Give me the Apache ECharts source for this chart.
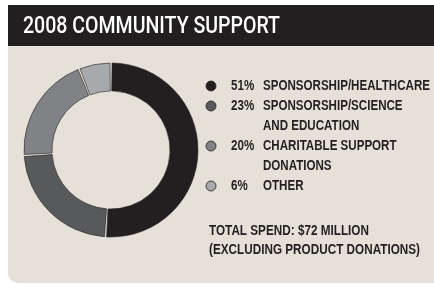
<!DOCTYPE html>
<html>
<head>
<meta charset="utf-8">
<script src="https://cdn.jsdelivr.net/npm/echarts@6/dist/echarts.min.js"></script>
<style>
  html, body { margin: 0; padding: 0; background: #fff; }
  #chart { width: 434px; height: 288px; }
</style>
</head>
<body>
<div id="chart"></div>
<script>
// 数据
var titleText = '2008 COMMUNITY SUPPORT'
var categories = ['SPONSORSHIP/HEALTHCARE', 'SPONSORSHIP/SCIENCE AND EDUCATION', 'CHARITABLE SUPPORT DONATIONS', 'OTHER']
var legendLines = [['SPONSORSHIP/HEALTHCARE'], ['SPONSORSHIP/SCIENCE', 'AND EDUCATION'], ['CHARITABLE SUPPORT', 'DONATIONS'], ['OTHER']]
var values = [51, 23, 20, 6]
var colors = ['#231f20', '#58595b', '#808285', '#a7a9ac']
var noteLines = ['TOTAL SPEND: $72 MILLION', '(EXCLUDING PRODUCT DONATIONS)']

var font = "'Liberation Sans', Arial, sans-serif"
var titleFont = "500 23px Roboto, 'Liberation Sans', sans-serif"
var textFont = 'bold 14px ' + font

// 窄体字：用 scaleX 压缩
var ctx = document.createElement('canvas').getContext('2d')
function widthOf (t, f) {
  ctx.font = f
  return ctx.measureText(t).width
}
var titleScale = 257 / widthOf(titleText, titleFont)
var textScale = 167 / widthOf(legendLines[0][0], textFont)
var noteScale = 211 / widthOf(noteLines[1], textFont)

var charts = echarts.init(document.getElementById('chart'))

function label (t, x, y, f, fill, s) {
  return {
    type: 'text', x: x, y: y, scaleX: s, z: 2,
    style: { text: t, fill: fill, font: f, verticalAlign: 'middle' }
  }
}

var graphics = [
  { type: 'rect', shape: { x: 8, y: 5, width: 426, height: 41 }, style: { fill: '#231f20' }, z: 0 },
  { type: 'rect', shape: { x: 8, y: 46, width: 426, height: 237, r: [0, 0, 0, 10] }, style: { fill: '#e5e1d8' }, z: 0 },
  label(titleText, 23, 27, titleFont, '#fff', titleScale)
]

// 图例
var row = 0
values.forEach(function (v, i) {
  var y = 86 + row * 20
  graphics.push({
    type: 'circle', shape: { cx: 211, cy: y, r: 5 },
    style: { fill: colors[i], stroke: '#231f20', lineWidth: 0.8 }, z: 2
  })
  graphics.push(label(v + '%', 231, y, textFont, '#231f20', textScale))
  legendLines[i].forEach(function (t, j) {
    graphics.push(label(t, 263, y + j * 20, textFont, '#231f20', textScale))
  })
  row += legendLines[i].length
})
noteLines.forEach(function (t, j) {
  graphics.push(label(t, 209, 231 + j * 19, textFont, '#231f20', noteScale))
})

var options = {
  animation: false,
  graphic: graphics,
  series: [{
    type: 'pie',
    center: [111, 150],
    radius: [59, 87],
    startAngle: 90,
    clockwise: true,
    padAngle: 1.4,
    silent: true,
    label: { show: false },
    labelLine: { show: false },
    itemStyle: { borderColor: '#231f20', borderWidth: 0.6 },
    z: 3,
    data: values.map(function (v, i) {
      return { name: categories[i], value: v, itemStyle: { color: colors[i] } }
    })
  }]
}
charts.setOption(options)
</script>
</body>
</html>
